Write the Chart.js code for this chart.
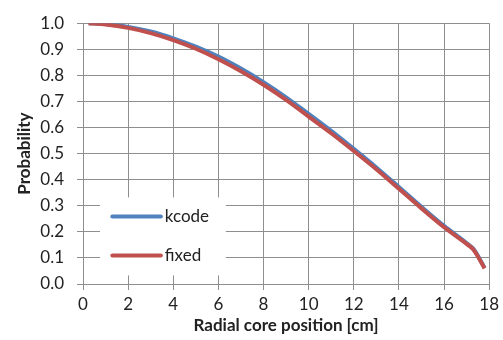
<!DOCTYPE html>
<html><head><meta charset="utf-8">
<script src="https://cdn.jsdelivr.net/npm/chart.js@4/dist/chart.umd.min.js"></script>
<style>html,body{margin:0;padding:0;background:#fff}#wrap{width:503px;height:340px}</style>
</head><body><div id="wrap"><canvas id="c" width="503" height="340"></canvas></div>
<script>
const positions = [0.25, 1, 2, 3, 4, 5, 6, 7, 8, 9, 10, 11, 12, 13, 14, 15, 16, 17, 17.3, 17.8];
const kcode = [1.0, 0.997, 0.986, 0.968, 0.942, 0.91, 0.872, 0.826, 0.774, 0.716, 0.652, 0.587, 0.518, 0.447, 0.372, 0.296, 0.223, 0.157, 0.135, 0.062];
const fixed = [1.0, 0.995, 0.982, 0.962, 0.935, 0.902, 0.862, 0.816, 0.764, 0.706, 0.642, 0.578, 0.51, 0.44, 0.365, 0.29, 0.218, 0.154, 0.132, 0.06];
const seriesNames = ['kcode', 'fixed'];
const xTitle = 'Radial core position [cm]';
const yTitle = 'Probability';

const FONT = 'Lato, "Open Sans", sans-serif';
const GRID = '#8e8e8e';

const legendPlugin = {
  id: 'insideLegend',
  beforeDatasetsDraw(chart) {
    const ctx = chart.ctx;
    const xs = chart.scales.x, ys = chart.scales.y;
    ctx.save();
    const rx = xs.getPixelForValue(0.75), ry = ys.getPixelForValue(0.332);
    const rw = xs.getPixelForValue(6.33) - rx, rh = ys.getPixelForValue(0.033) - ry;
    ctx.fillStyle = '#fff';
    ctx.fillRect(rx, ry, rw, rh);
    const rowsY = [0.262, 0.11];
    chart.data.datasets.forEach((ds, i) => {
      const y = Math.round(ys.getPixelForValue(rowsY[i])) + 0.5;
      const x0 = xs.getPixelForValue(1.3), x1 = xs.getPixelForValue(3.45);
      ctx.strokeStyle = ds.borderColor;
      ctx.lineWidth = 4;
      ctx.lineCap = 'round';
      ctx.beginPath(); ctx.moveTo(x0, y); ctx.lineTo(x1, y); ctx.stroke();
      ctx.fillStyle = '#222';
      ctx.font = '17px ' + FONT;
      ctx.textBaseline = 'middle';
      ctx.fillText(ds.label, x1 + 4, y);
    });
    ctx.restore();
  }
};

new Chart(document.getElementById('c'), {
  type: 'line',
  data: {
    datasets: [
      { label: seriesNames[0], order: 1, data: positions.map((x, i) => ({x, y: kcode[i]})), borderColor: '#4F81BD', backgroundColor: '#4F81BD', borderWidth: 4, pointRadius: 0, cubicInterpolationMode: 'monotone' },
      { label: seriesNames[1], order: 0, data: positions.map((x, i) => ({x, y: fixed[i]})), borderColor: '#C0504D', backgroundColor: '#C0504D', borderWidth: 4, pointRadius: 0, cubicInterpolationMode: 'monotone' }
    ]
  },
  options: {
    responsive: false, animation: false, devicePixelRatio: 1,
    layout: { padding: { top: 13, right: 13, left: 0, bottom: 4 } },
    plugins: { legend: { display: false }, tooltip: { enabled: false } },
    scales: {
      x: {
        type: 'linear', min: 0, max: 18,
        afterFit(s) { s.height = 52; },
        ticks: { stepSize: 2, color: '#222', font: { family: FONT, size: 17 }, padding: 4, maxRotation: 0 },
        grid: { color: GRID, lineWidth: 1, tickLength: 6, drawTicks: true },
        border: { color: GRID, width: 1 },
        title: { display: true, text: xTitle, color: '#222', font: { family: FONT, size: 17, weight: 'bold' }, padding: { top: 0, bottom: 0 } }
      },
      y: {
        min: 0, max: 1,
        afterFit(s) { s.width = 83; },
        ticks: { stepSize: 0.1, color: '#222', font: { family: FONT, size: 17 }, padding: 13, callback: v => v.toFixed(1) },
        grid: { color: GRID, lineWidth: 1, tickLength: 6 },
        border: { color: GRID, width: 1 },
        title: { display: true, text: yTitle, color: '#222', font: { family: FONT, size: 17, weight: 'bold' }, padding: { top: 14, bottom: 0 } }
      }
    }
  },
  plugins: [legendPlugin]
});
</script></body></html>
